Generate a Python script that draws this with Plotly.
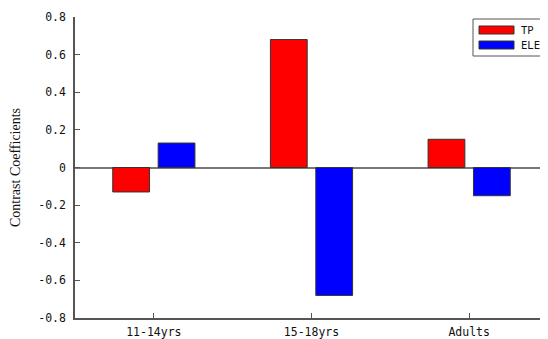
import plotly.graph_objects as go

categories = ["11-14yrs", "15-18yrs", "Adults"]
series_names = ["TP", "ELE"]
tp_values = [-0.13, 0.68, 0.15]
ele_values = [0.13, -0.68, -0.15]
series_colors = ["#ff0000", "#0000ff"]
ytick_vals = [-0.8, -0.6, -0.4, -0.2, 0, 0.2, 0.4, 0.6, 0.8]
ytick_text = ["-0.8", "-0.6", "-0.4", "-0.2", "0", "0.2", "0.4", "0.6", "0.8"]

mono = "DejaVu Sans Mono"
axis_col = "#555555"

W, H = 540, 331
ML, MR, MT, MB = 67, 0, 9, 21
PW, PH = W - ML - MR, H - MT - MB


def px(x):
    return (x - ML) / PW


def py(y):
    return (H - MB - y) / PH


fig = go.Figure()
for name, vals, col in zip(series_names, [tp_values, ele_values], series_colors):
    fig.add_trace(go.Bar(x=categories, y=vals, name=name, showlegend=False,
                         marker=dict(color=col, line=dict(color="#333333", width=1))))

# manual legend (box runs off the right edge as in the reference)
LX = 465
shapes = [dict(type="rect", xref="paper", yref="paper",
               x0=px(LX), x1=px(LX + 90), y0=py(48), y1=py(11),
               line=dict(color="#555555", width=1), fillcolor="white")]
annotations = []
for i, (name, col) in enumerate(zip(series_names, series_colors)):
    top = 18 + i * 15
    shapes.append(dict(type="rect", xref="paper", yref="paper",
                       x0=px(LX + 6), x1=px(LX + 41), y0=py(top + 8), y1=py(top),
                       line=dict(color="#333333", width=1), fillcolor=col))
    annotations.append(dict(text=name, xref="paper", yref="paper",
                            x=px(LX + 46), y=py(top + 4), xanchor="left", yanchor="middle",
                            showarrow=False,
                            font=dict(family=mono, size=10.5, color="#111111")))

fig.update_layout(
    width=W, height=H,
    margin=dict(l=ML, r=MR, t=MT, b=MB, autoexpand=False),
    paper_bgcolor="white", plot_bgcolor="white",
    barmode="group", bargap=0.424, bargroupgap=0.19,
    showlegend=False,
    shapes=shapes, annotations=annotations,
    xaxis=dict(showline=True, linecolor=axis_col, linewidth=1.5,
               ticks="inside", ticklen=5, tickcolor=axis_col,
               tickfont=dict(family=mono, size=11.5, color="#111111"),
               ticklabelstandoff=2,
               showgrid=False, range=[-0.5, 2.5], fixedrange=True),
    yaxis=dict(range=[-0.8, 0.8], tickvals=ytick_vals, ticktext=ytick_text,
               showline=True, linecolor=axis_col, linewidth=1.5,
               ticks="inside", ticklen=5, tickcolor=axis_col,
               tickfont=dict(family=mono, size=11.5, color="#111111"),
               ticklabelstandoff=5,
               showgrid=False, zeroline=True, zerolinecolor="#777777", zerolinewidth=1.5,
               title=dict(text="Contrast Coefficients",
                          font=dict(family="Liberation Serif", size=14, color="#111111"),
                          standoff=14)),
)

fig.write_html("out.html")
